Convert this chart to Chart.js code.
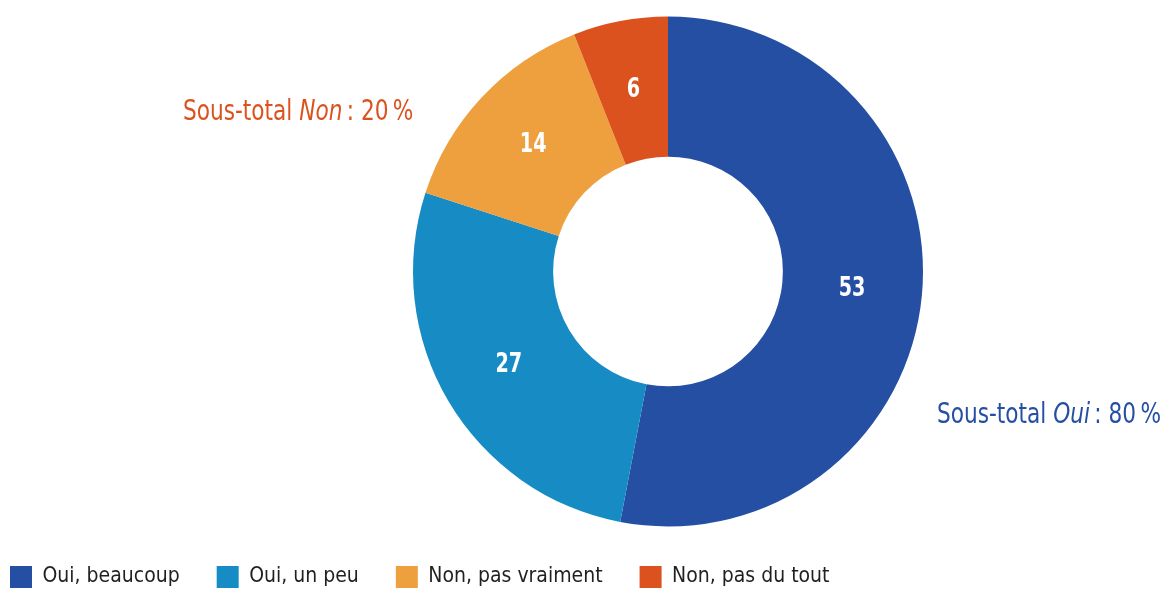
<!DOCTYPE html>
<html>
<head>
<meta charset="utf-8">
<script src="https://cdn.jsdelivr.net/npm/chart.js@4/dist/chart.umd.min.js"></script>
<style>
  html, body { margin: 0; padding: 0; background: #fff; overflow: hidden; }
  #wrap { position: relative; width: 1160px; height: 589px; }
  .note {
    position: absolute;
    font-family: "DejaVu Sans Condensed", "DejaVu Sans", sans-serif;
    font-stretch: condensed;
    font-size: 29px;
    white-space: nowrap;
    line-height: 1;
    transform: scaleX(0.83);
    transform-origin: left top;
  }
  #noteNon { left: 183px; top: 96px; color: #dc521e; }
  #noteOui { left: 937px; top: 399px; color: #244fa3; }
</style>
</head>
<body>
<div id="wrap">
  <canvas id="pie" width="1160" height="589"></canvas>
  <div class="note" id="noteNon">Sous-total <i>Non</i>&#8239;: 20&#8239;%</div>
  <div class="note" id="noteOui">Sous-total <i>Oui</i>&#8239;: 80&#8239;%</div>
</div>
<script>
// réponses (en %)
const categories = ["Oui, beaucoup", "Oui, un peu", "Non, pas vraiment", "Non, pas du tout"];
const values = [53, 27, 14, 6];
const colors = ["#244fa3", "#168bc4", "#ee9f3e", "#dc521e"];

const FONT = "'DejaVu Sans Condensed', 'DejaVu Sans', sans-serif";
const LEGEND_GAP = 37;

// write the value in the middle of each slice (squeezed a bit, condensed look)
const sliceLabels = {
  id: "sliceLabels",
  afterDatasetsDraw(chart) {
    const ctx = chart.ctx;
    const meta = chart.getDatasetMeta(0);
    ctx.save();
    ctx.fillStyle = "#fff";
    ctx.font = "bold 26px " + FONT;
    ctx.textAlign = "center";
    ctx.textBaseline = "middle";
    meta.data.forEach((arc, i) => {
      const p = arc.tooltipPosition();
      ctx.save();
      ctx.translate(p.x, p.y);
      ctx.scale(0.82, 1);
      ctx.fillText(String(values[i]), 0, 0);
      ctx.restore();
    });
    ctx.restore();
  }
};

// legend starts at the left edge of the page, not of the padded area
const legendLeft = {
  id: "legendLeft",
  afterLayout(chart) {
    chart.legend.left = 10 - LEGEND_GAP;
    chart.legend.right = chart.width;
  }
};

const config = {
  type: "doughnut",
  data: {
    labels: categories,
    datasets: [{
      data: values,
      backgroundColor: colors,
      borderWidth: 0,
      radius: 255,
      cutout: 116
    }]
  },
  options: {
    responsive: false,
    animation: false,
    layout: { padding: { left: 176, right: 0, top: 14, bottom: -9 } },
    plugins: {
      tooltip: { enabled: false },
      legend: {
        position: "bottom",
        align: "start",
        labels: {
          boxWidth: 22,
          boxHeight: 22,
          padding: LEGEND_GAP,
          color: "#231f20",
          font: { family: FONT, size: 21 }
        }
      }
    }
  },
  plugins: [sliceLabels, legendLeft]
};

const pieChart = new Chart(document.getElementById("pie"), config);
</script>
</body>
</html>
